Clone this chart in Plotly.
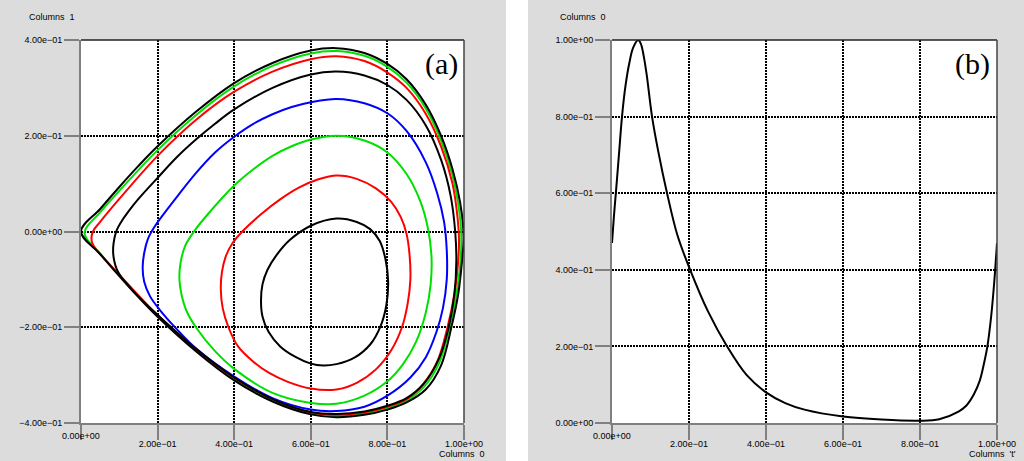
import plotly.graph_objects as go

# ---------------- phase portrait (a): Columns 0 vs Columns 1 ----------------
# outer orbit (black): leaves the saddle at (0, 0) and returns to it
c1_x = [0.0, 0.05, 0.1, 0.15, 0.2, 0.3, 0.4, 0.5, 0.6, 0.667, 0.74, 0.8, 0.85, 0.9, 0.94,
        0.97, 0.99, 0.999, 0.995, 0.985, 0.967, 0.94, 0.9, 0.85, 0.8, 0.74, 0.667, 0.6, 0.5,
        0.4, 0.3, 0.2, 0.15, 0.1, 0.05, 0.0]
c1_y = [0.0, 0.047, 0.093, 0.137, 0.178, 0.25, 0.31, 0.352, 0.378, 0.383, 0.373, 0.35, 0.318,
        0.265, 0.2, 0.13, 0.06, -0.01, -0.06, -0.13, -0.2, -0.28, -0.33, -0.357, -0.372, -0.383,
        -0.388, -0.382, -0.355, -0.311, -0.25, -0.178, -0.137, -0.093, -0.047, 0.0]

c2_x = [0.009, 0.05, 0.1, 0.2, 0.3, 0.4, 0.5, 0.6, 0.667, 0.74, 0.8, 0.85, 0.9, 0.94, 0.97,
        0.988, 0.993, 0.99, 0.98, 0.962, 0.935, 0.895, 0.85, 0.8, 0.74, 0.667, 0.6, 0.5, 0.4,
        0.3, 0.2, 0.1, 0.05, 0.009]
c2_y = [-0.003, 0.04, 0.085, 0.17, 0.243, 0.303, 0.346, 0.372, 0.377, 0.367, 0.344, 0.311,
        0.257, 0.19, 0.117, 0.04, -0.01, -0.07, -0.13, -0.2, -0.275, -0.325, -0.353, -0.369,
        -0.38, -0.385, -0.379, -0.352, -0.308, -0.248, -0.176, -0.091, -0.046, -0.003]

c3_x = [0.028, 0.031, 0.05, 0.1, 0.2, 0.3, 0.4, 0.5, 0.6, 0.667, 0.74, 0.8, 0.85, 0.9, 0.94,
        0.97, 0.983, 0.987, 0.984, 0.975, 0.957, 0.93, 0.89, 0.85, 0.8, 0.74, 0.667, 0.6, 0.5,
        0.4, 0.3, 0.2, 0.1, 0.06, 0.04, 0.028]
c3_y = [-0.02, 0.0, 0.02, 0.068, 0.158, 0.233, 0.292, 0.334, 0.36, 0.366, 0.356, 0.332, 0.3,
        0.246, 0.178, 0.1, 0.03, -0.02, -0.07, -0.13, -0.2, -0.272, -0.322, -0.35, -0.366,
        -0.378, -0.383, -0.378, -0.35, -0.306, -0.246, -0.175, -0.09, -0.056, -0.038, -0.02]

c4_x = [0.667, 0.74, 0.8, 0.85, 0.9, 0.94, 0.965, 0.977, 0.98, 0.975, 0.96, 0.935, 0.895,
        0.85, 0.8, 0.74, 0.667, 0.6, 0.5, 0.4, 0.3, 0.2, 0.15, 0.125, 0.105, 0.093, 0.087,
        0.084, 0.085, 0.092, 0.105, 0.125, 0.15, 0.2, 0.25, 0.3, 0.35, 0.4, 0.5, 0.6, 0.667]
c4_y = [0.334, 0.326, 0.306, 0.275, 0.222, 0.15, 0.075, 0.0, -0.06, -0.13, -0.2, -0.265,
        -0.318, -0.348, -0.364, -0.376, -0.381, -0.377, -0.35, -0.305, -0.245, -0.174, -0.136,
        -0.114, -0.095, -0.078, -0.062, -0.045, -0.025, 0.0, 0.02, 0.043, 0.068, 0.112, 0.155,
        0.192, 0.225, 0.255, 0.3, 0.328, 0.334]

c5_x = [0.667, 0.74, 0.8, 0.85, 0.9, 0.93, 0.948, 0.955, 0.955, 0.945, 0.928, 0.9, 0.86, 0.8,
        0.74, 0.667, 0.6, 0.5, 0.4, 0.3, 0.25, 0.205, 0.18, 0.165, 0.161, 0.165, 0.175, 0.192,
        0.25, 0.3, 0.35, 0.4, 0.45, 0.5, 0.55, 0.6, 0.667]
c5_y = [0.277, 0.268, 0.247, 0.21, 0.145, 0.08, 0.02, -0.04, -0.1, -0.16, -0.21, -0.263,
        -0.305, -0.343, -0.366, -0.375, -0.372, -0.348, -0.303, -0.244, -0.204, -0.163, -0.135,
        -0.105, -0.075, -0.045, -0.015, 0.01, 0.072, 0.122, 0.165, 0.198, 0.225, 0.245, 0.26,
        0.27, 0.277]

c6_x = [0.667, 0.74, 0.8, 0.85, 0.885, 0.905, 0.915, 0.913, 0.9, 0.875, 0.84, 0.8, 0.74,
        0.667, 0.6, 0.5, 0.4, 0.35, 0.3, 0.275, 0.262, 0.257, 0.26, 0.272, 0.295, 0.33, 0.4,
        0.45, 0.5, 0.55, 0.6, 0.667]
c6_y = [0.2, 0.19, 0.165, 0.12, 0.065, 0.01, -0.05, -0.11, -0.17, -0.23, -0.278, -0.313,
        -0.343, -0.36, -0.358, -0.337, -0.287, -0.25, -0.2, -0.165, -0.13, -0.1, -0.065, -0.03,
        0.0, 0.035, 0.096, 0.13, 0.158, 0.178, 0.192, 0.2]

c7_x = [0.667, 0.72, 0.77, 0.81, 0.835, 0.85, 0.858, 0.86, 0.853, 0.838, 0.81, 0.77, 0.72,
        0.667, 0.6, 0.54, 0.49, 0.45, 0.41, 0.385, 0.37, 0.365, 0.368, 0.378, 0.395, 0.425,
        0.47, 0.52, 0.57, 0.62, 0.667]
c7_y = [0.117, 0.11, 0.09, 0.062, 0.03, -0.005, -0.05, -0.1, -0.15, -0.2, -0.248, -0.288,
        -0.316, -0.33, -0.328, -0.314, -0.295, -0.272, -0.24, -0.2, -0.16, -0.12, -0.085,
        -0.052, -0.025, 0.003, 0.036, 0.067, 0.092, 0.109, 0.117]

c8_x = [0.667, 0.72, 0.755, 0.78, 0.795, 0.802, 0.797, 0.782, 0.755, 0.715, 0.667, 0.632,
        0.6, 0.56, 0.52, 0.49, 0.474, 0.47, 0.474, 0.487, 0.51, 0.545, 0.6, 0.667]
c8_y = [0.027, 0.02, 0.005, -0.02, -0.058, -0.105, -0.155, -0.198, -0.236, -0.263, -0.277,
        -0.28, -0.276, -0.262, -0.24, -0.21, -0.178, -0.145, -0.11, -0.08, -0.05, -0.018,
        0.012, 0.027]

# ---------------- time series (b): Columns 't' vs Columns 0 ----------------
t_vals = [0.0, 0.005, 0.01, 0.018, 0.026, 0.035, 0.045, 0.055, 0.068, 0.075, 0.082, 0.09,
          0.104, 0.12, 0.143, 0.17, 0.203, 0.25, 0.299, 0.35, 0.4, 0.45, 0.5, 0.6, 0.7, 0.8,
          0.85, 0.9, 0.92, 0.94, 0.955, 0.965, 0.975, 0.985, 0.993, 1.0]
u_vals = [0.47, 0.54, 0.6, 0.7, 0.8, 0.88, 0.94, 0.98, 1.0, 0.99, 0.96, 0.91, 0.8, 0.71,
          0.6, 0.49, 0.4, 0.29, 0.2, 0.125, 0.08, 0.052, 0.035, 0.017, 0.009, 0.006, 0.01,
          0.03, 0.045, 0.075, 0.11, 0.15, 0.2, 0.28, 0.37, 0.47]

x_ticks = [0.0, 0.2, 0.4, 0.6, 0.8, 1.0]
x_ticktext = ["", "2.00e\u221201", "4.00e\u221201", "6.00e\u221201", "8.00e\u221201", "1.00e+00"]
ya_ticks = [-0.4, -0.2, 0.0, 0.2, 0.4]
ya_ticktext = ["\u22124.00e\u221201", "\u22122.00e\u221201", "0.00e+00", "2.00e\u221201", "4.00e\u221201"]
yb_ticks = [0.0, 0.2, 0.4, 0.6, 0.8, 1.0]
yb_ticktext = ["0.00e+00", "2.00e\u221201", "4.00e\u221201", "6.00e\u221201", "8.00e\u221201", "1.00e+00"]

BLACK, GREEN, RED, BLUE = "#000000", "#00e000", "#ff0000", "#0000ff"
W, H = 1024, 461

fig = go.Figure()

orbits = [
    (c2_x, c2_y, GREEN), (c3_x, c3_y, RED), (c5_x, c5_y, BLUE), (c6_x, c6_y, GREEN),
    (c7_x, c7_y, RED), (c8_x, c8_y, BLACK), (c4_x, c4_y, BLACK), (c1_x, c1_y, BLACK),
]
for xs, ys, col in orbits:
    fig.add_trace(go.Scatter(x=xs, y=ys, mode="lines", xaxis="x", yaxis="y",
                             line=dict(color=col, width=2, shape="spline", smoothing=1.0),
                             showlegend=False, hoverinfo="skip"))

fig.add_trace(go.Scatter(x=t_vals, y=u_vals, mode="lines", xaxis="x2", yaxis="y2",
                         line=dict(color=BLACK, width=2, shape="spline", smoothing=1.0),
                         showlegend=False, hoverinfo="skip"))

tickfont = dict(family="Liberation Sans, Arial, sans-serif", size=9, color="#000000")
axis_common = dict(
    showline=True, linecolor="#808080", linewidth=2,
    ticks="outside", tickcolor="#808080", tickwidth=1.5, ticklen=15,
    showgrid=True, gridcolor="#000000", gridwidth=1.5, griddash="2px,1px",
    zeroline=False, tickfont=tickfont, fixedrange=True, automargin=False,
)
x_extra = dict(ticklabelstandoff=-4)

yd = [1 - 423 / H, 1 - 40 / H]
fig.update_layout(
    width=W, height=H, margin=dict(l=0, r=0, t=0, b=0, autoexpand=False),
    paper_bgcolor="#ffffff", plot_bgcolor="#ffffff",
    xaxis=dict(domain=[81 / W, 464 / W], range=[0, 1], tickvals=x_ticks,
               ticktext=x_ticktext, anchor="y", **axis_common, **x_extra),
    yaxis=dict(domain=yd, range=[-0.4, 0.4], tickvals=ya_ticks,
               ticktext=ya_ticktext, anchor="x", **axis_common),
    xaxis2=dict(domain=[612 / W, 997 / W], range=[0, 1], tickvals=x_ticks,
                ticktext=x_ticktext, anchor="y2", **axis_common, **x_extra),
    yaxis2=dict(domain=yd, range=[0, 1], tickvals=yb_ticks,
                ticktext=yb_ticktext, anchor="x2", **axis_common),
)

# grey panel backgrounds and the thin top/right frame of each plot
shapes = [
    dict(type="rect", xref="paper", yref="paper", x0=0, x1=506 / W, y0=0, y1=1,
         fillcolor="#dcdcdc", line=dict(width=0), layer="below"),
    dict(type="rect", xref="paper", yref="paper", x0=528 / W, x1=1, y0=0, y1=1,
         fillcolor="#dcdcdc", line=dict(width=0), layer="below"),
]
for xr, yr in (("x", "y"), ("x2", "y2")):
    shapes.append(dict(type="rect", xref=f"{xr} domain", yref=f"{yr} domain",
                       x0=0, x1=1, y0=0, y1=1, fillcolor="#ffffff",
                       line=dict(width=0), layer="below"))
    shapes.append(dict(type="line", xref=f"{xr} domain", yref=f"{yr} domain",
                       x0=0, x1=1, y0=1, y1=1, line=dict(color="#222222", width=1.5)))
    shapes.append(dict(type="line", xref=f"{xr} domain", yref=f"{yr} domain",
                       x0=1, x1=1, y0=0, y1=1, line=dict(color="#444444", width=1.5)))
fig.update_layout(shapes=shapes)

lab = dict(family="Liberation Sans, Arial, sans-serif", size=9, color="#000000")
serif = dict(family="Liberation Serif, Times New Roman, serif", size=30, color="#000000")
annotations = [
    dict(text="Columns  1", x=27 / W, y=1 - 17 / H, xref="paper", yref="paper",
         xanchor="left", yanchor="middle", showarrow=False, font=lab),
    dict(text="Columns  0", x=437 / W, y=1 - 454 / H, xref="paper", yref="paper",
         xanchor="left", yanchor="middle", showarrow=False, font=lab),
    dict(text="Columns  0", x=558 / W, y=1 - 17 / H, xref="paper", yref="paper",
         xanchor="left", yanchor="middle", showarrow=False, font=lab),
    dict(text="Columns  't'", x=967 / W, y=1 - 454 / H, xref="paper", yref="paper",
         xanchor="left", yanchor="middle", showarrow=False, font=lab),
    dict(text="0.00e+00", x=0, y=1 - 436 / H, xref="x", yref="paper",
         xanchor="center", yanchor="middle", showarrow=False, font=lab),
    dict(text="0.00e+00", x=0, y=1 - 436 / H, xref="x2", yref="paper",
         xanchor="center", yanchor="middle", showarrow=False, font=lab),
    dict(text="(a)", x=441 / W, y=1 - 64 / H, xref="paper", yref="paper",
         xanchor="center", yanchor="middle", showarrow=False, font=serif),
    dict(text="(b)", x=972 / W, y=1 - 64 / H, xref="paper", yref="paper",
         xanchor="center", yanchor="middle", showarrow=False, font=serif),
]
fig.update_layout(annotations=annotations)

fig.write_html("out.html")
